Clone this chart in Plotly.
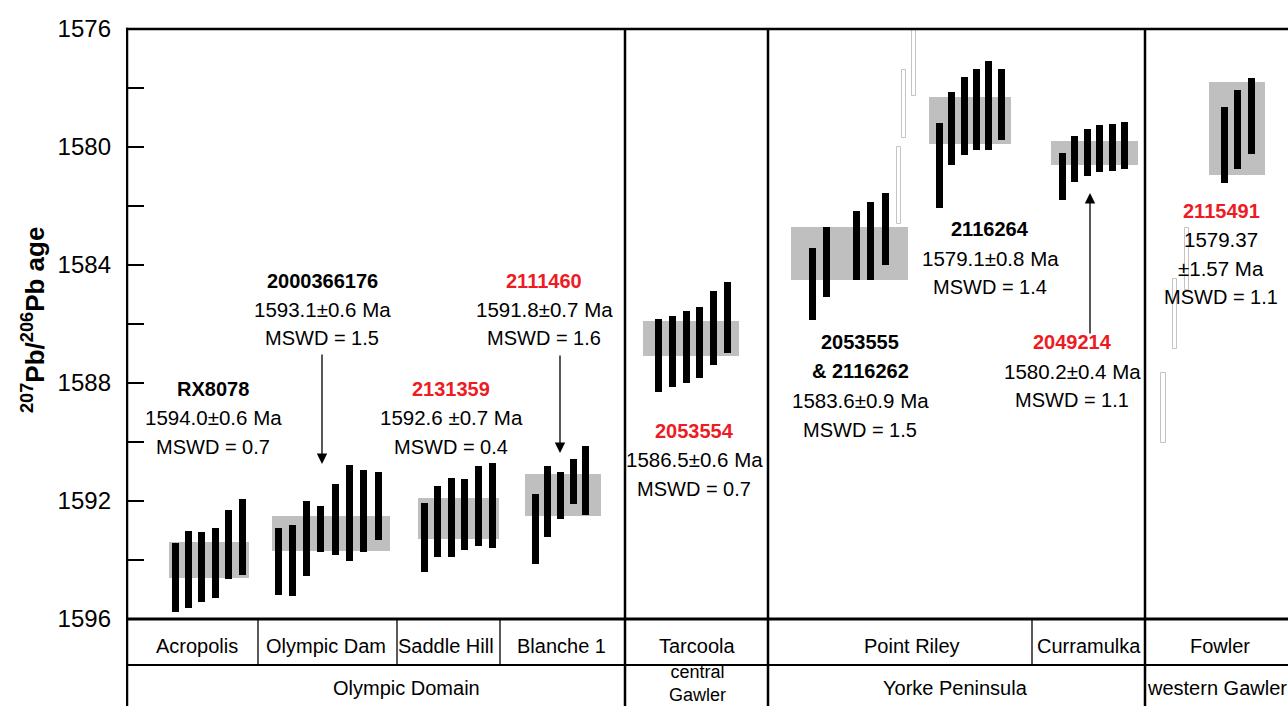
import plotly.graph_objects as go

# ---------------------------------------------------------------------------
# Weighted-mean 207Pb/206Pb ages (Ma), 2-sigma uncertainties and MSWD
# ---------------------------------------------------------------------------
SAMPLE_IDS = ["RX8078", "2000366176", "2131359", "2111460", "2053554",
              "2053555 & 2116262", "2116264", "2049214", "2115491"]
MEAN_AGE = [1594.0, 1593.1, 1592.6, 1591.8, 1586.5, 1583.6, 1579.1, 1580.2, 1579.37]
MEAN_ERR = [0.6, 0.6, 0.7, 0.7, 0.6, 0.9, 0.8, 0.4, 1.57]
MSWD = [0.7, 1.5, 0.4, 1.6, 0.7, 1.5, 1.4, 1.1, 1.1]
NEW_SAMPLE = [False, False, True, True, True, False, False, True, True]

# Individual analyses: centre age and 2-sigma half-width (Ma)
AGE_RX8078 = [1594.59, 1594.31, 1594.24, 1594.11, 1593.49, 1593.22]
ERR_RX8078 = [1.16, 1.31, 1.20, 1.19, 1.17, 1.30]
AGE_2000366176 = [1594.05, 1594.01, 1593.27, 1592.96, 1592.62, 1592.41, 1592.34, 1592.17]
ERR_2000366176 = [1.15, 1.20, 1.28, 0.78, 1.20, 1.62, 1.39, 1.15]
AGE_2131359 = [1593.23, 1592.69, 1592.56, 1592.45, 1592.17, 1592.15]
ERR_2131359 = [1.17, 1.21, 1.33, 1.21, 1.36, 1.43]
AGE_2111460 = [1592.94, 1592.01, 1591.82, 1591.34, 1591.31]
ERR_2111460 = [1.18, 1.20, 0.79, 0.77, 1.17]
AGE_2053554 = [1587.07, 1586.93, 1586.78, 1586.62, 1586.13, 1585.79]
ERR_2053554 = [1.23, 1.21, 1.22, 1.21, 1.26, 1.20]
AGE_2053555 = [1584.63, 1583.89, 1583.34, 1583.19, 1582.78]
ERR_2053555 = [1.22, 1.19, 1.17, 1.33, 1.21]
AGE_2116264 = [1580.63, 1579.38, 1578.96, 1578.73, 1578.59, 1578.56]
ERR_2116264 = [1.43, 1.24, 1.32, 1.38, 1.52, 1.21]
AGE_2049214 = [1581.00, 1580.41, 1580.19, 1580.06, 1580.01, 1579.95]
ERR_2049214 = [0.81, 0.79, 0.80, 0.79, 0.80, 0.80]
AGE_2115491 = [1579.93, 1579.41, 1578.96]
ERR_2115491 = [1.28, 1.35, 1.29]

# Analyses excluded from the weighted means (open bars)
REJ_AGE_POINT_RILEY = [1581.31, 1578.54, 1577.03]
REJ_ERR_POINT_RILEY = [1.30, 1.15, 1.23]
REJ_AGE_FOWLER = [1588.84, 1585.66, 1583.79]
REJ_ERR_FOWLER = [1.19, 1.20, 1.06]

# Locality / region labels
LOCALITIES = ["Acropolis", "Olympic Dam", "Saddle Hill", "Blanche 1",
              "Tarcoola", "Point Riley", "Curramulka", "Fowler"]
REGIONS = ["Olympic Domain", "central<br>Gawler", "Yorke Peninsula", "western Gawler"]

Y_TICKS = [1576, 1580, 1584, 1588, 1592, 1596]

# ---------------------------------------------------------------------------
# Layout of the panel (horizontal axis is a plain layout coordinate)
# ---------------------------------------------------------------------------
X_MIN, X_MAX = 126, 1288
FIG_W, FIG_H = 1288, 706
TOP_PX, PLOT_BOTTOM_PX = 29, 619
ROW_DIV_PX = 665

# per sample: first slot, slot step, slot indices, mean-box extent
SLOT_LAYOUT = [
    (175.0, 13.46, None, 169.3, 249.3),
    (278.0, 14.33, None, 271.7, 390.0),
    (424.3, 13.54, None, 418.3, 498.7),
    (535.3, 12.60, None, 525.0, 600.7),
    (658.3, 13.88, None, 643.3, 739.3),
    (812.0, 14.70, [0, 1, 3, 4, 5], 790.7, 907.7),
    (939.3, 12.40, None, 929.3, 1010.7),
    (1062.3, 12.48, None, 1051.0, 1138.3),
    (1224.3, 13.50, None, 1208.5, 1265.0),
]
REJ_LAYOUT_POINT_RILEY = (899.0, 5.0, [0, 1, 3])
REJ_LAYOUT_FOWLER = (1163.3, 11.85, [0, 1, 2])

GROUP_SEPARATORS = [625, 768, 1145]
LOCALITY_SEPARATORS = [258, 397, 500, 1032]
LOCALITY_CENTRES = [197, 326, 446, 561, 697, 912, 1089, 1220]
REGION_CENTRES = [406, 697, 955, 1217]

GRAIN_AGES = [AGE_RX8078, AGE_2000366176, AGE_2131359, AGE_2111460, AGE_2053554,
              AGE_2053555, AGE_2116264, AGE_2049214, AGE_2115491]
GRAIN_ERRS = [ERR_RX8078, ERR_2000366176, ERR_2131359, ERR_2111460, ERR_2053554,
              ERR_2053555, ERR_2116264, ERR_2049214, ERR_2115491]

FONT = "Liberation Sans, Arial, Helvetica, sans-serif"
RED = "#ed1c24"
BOX_GREY = "#bfbfbf"


def paper_y(px):
    """Vertical pixel position -> paper fraction of the plotting area."""
    return (PLOT_BOTTOM_PX - px) / (PLOT_BOTTOM_PX - TOP_PX)


def slot_x(start, step, n, slots):
    idx = slots if slots is not None else list(range(n))
    return [start + step * i for i in idx]


fig = go.Figure()

# weighted-mean boxes
box_x, box_w, box_base, box_len = [], [], [], []
for (start, step, slots, x0, x1), m, e in zip(SLOT_LAYOUT, MEAN_AGE, MEAN_ERR):
    box_x.append((x0 + x1) / 2)
    box_w.append(x1 - x0)
    box_base.append(m - e)
    box_len.append(2 * e)
fig.add_trace(go.Bar(x=box_x, y=box_len, base=box_base, width=box_w,
                     marker=dict(color=BOX_GREY, line=dict(width=0)),
                     hoverinfo="skip", showlegend=False))

# individual analyses (black bars)
for (start, step, slots, x0, x1), ages, errs in zip(SLOT_LAYOUT, GRAIN_AGES, GRAIN_ERRS):
    xs = slot_x(start, step, len(ages), slots)
    fig.add_trace(go.Bar(x=xs, y=[2 * e for e in errs],
                         base=[a - e for a, e in zip(ages, errs)],
                         width=7, marker=dict(color="black", line=dict(width=0)),
                         hoverinfo="skip", showlegend=False))

# excluded analyses (open bars)
for (start, step, slots), ages, errs in [
        (REJ_LAYOUT_POINT_RILEY, REJ_AGE_POINT_RILEY, REJ_ERR_POINT_RILEY),
        (REJ_LAYOUT_FOWLER, REJ_AGE_FOWLER, REJ_ERR_FOWLER)]:
    xs = slot_x(start, step, len(ages), slots)
    fig.add_trace(go.Bar(x=xs, y=[2 * e for e in errs],
                         base=[a - e for a, e in zip(ages, errs)],
                         width=4.5, marker=dict(color="white", line=dict(color="#c4c4c4", width=1)),
                         hoverinfo="skip", showlegend=False))

# ---------------------------------------------------------------------------
# Sample annotations
# ---------------------------------------------------------------------------
# (text centre x, y of first line, line spacing)
LABEL_POS = [
    (213, 389, 29), (322, 281, 28.5), (451, 389, 29), (544, 281, 28.5),
    (694, 431, 29), (860, 342, 29.3), (990, 229, 29), (1072, 342, 29), (1221, 211, 28.7),
]

annotations = []


def add_text(x, py, text, size=20, color="black", bold=False):
    if bold:
        text = f"<b>{text}</b>"
    annotations.append(dict(x=x, xref="x", y=paper_y(py), yref="paper", text=text,
                            showarrow=False, xanchor="center", yanchor="middle",
                            font=dict(family=FONT, size=size, color=color)))


for i, (sid, m, e, w, new) in enumerate(zip(SAMPLE_IDS, MEAN_AGE, MEAN_ERR, MSWD, NEW_SAMPLE)):
    x, py, dy = LABEL_POS[i]
    colour = RED if new else "black"
    if "&" in sid:
        first, second = sid.split(" & ")
        id_lines = [first, "& " + second]
    else:
        id_lines = [sid]
    if sid == "2131359":
        age_lines = [f"{m:.1f} \u00b1{e:.1f} Ma"]
    elif sid == "2115491":
        age_lines = [f"{m:.2f}", f"\u00b1{e:.2f} Ma"]
    else:
        age_lines = [f"{m:.1f}\u00b1{e:.1f} Ma"]
    lines = ([(t, "id") for t in id_lines] + [(t, "age") for t in age_lines]
             + [(f"MSWD = {w:.1f}", "mswd")])
    for k, (t, kind) in enumerate(lines):
        if kind == "id":
            add_text(x, py + k * dy, t, size=20, color=colour, bold=True)
        elif kind == "age":
            add_text(x, py + k * dy, t, size=20.5)
        else:
            add_text(x, py + k * dy, t, size=20)

# arrows linking labels to their boxes: (x, head px, tail px)
ARROWS = [(322, 464, 353), (560, 453, 354), (1090, 193, 335)]
for x, head, tail in ARROWS:
    annotations.append(dict(x=x, xref="x", y=paper_y(head), yref="paper", text="",
                            showarrow=True, ax=0, ay=tail - head, arrowhead=2,
                            arrowsize=1.6, arrowwidth=1.3, arrowcolor="black"))

# locality and region labels beneath the plot
for name, cx in zip(LOCALITIES, LOCALITY_CENTRES):
    add_text(cx, 646, name)
for name, cx in zip(REGIONS, REGION_CENTRES):
    if "<br>" in name:
        add_text(cx, 683, name, size=18)
    else:
        add_text(cx, 688, name)

# y-axis title
annotations.append(dict(x=(33 - X_MIN) / (X_MAX - X_MIN), xref="paper", y=paper_y(320), yref="paper",
                        text="<b><sup>207</sup>Pb/<sup>206</sup>Pb age</b>", textangle=-90,
                        showarrow=False, xanchor="center", yanchor="middle",
                        font=dict(family=FONT, size=26, color="black")))

# ---------------------------------------------------------------------------
# Frame and table lines
# ---------------------------------------------------------------------------
shapes = []
bottom = paper_y(FIG_H + 5)
row_div = paper_y(ROW_DIV_PX)


def vline(x, y0, y1, w):
    shapes.append(dict(type="line", xref="x", yref="paper", x0=x, x1=x, y0=y0, y1=y1,
                       line=dict(color="black", width=w)))


def hline(y, w):
    shapes.append(dict(type="line", xref="x", yref="paper", x0=X_MIN, x1=X_MAX + 5, y0=y, y1=y,
                       line=dict(color="black", width=w)))


hline(1, 2.5)
hline(0, 3)
hline(row_div, 2)
vline(X_MIN + 1, 1.002, bottom, 2.5)
for gx in GROUP_SEPARATORS:
    vline(gx, 1, bottom, 2.5)
for lx in LOCALITY_SEPARATORS:
    vline(lx, 0, row_div, 1.3)

fig.update_layout(
    width=FIG_W, height=FIG_H,
    margin=dict(l=X_MIN, r=FIG_W - X_MAX, t=TOP_PX, b=FIG_H - PLOT_BOTTOM_PX),
    paper_bgcolor="white", plot_bgcolor="white",
    barmode="overlay", bargap=0,
    xaxis=dict(range=[X_MIN, X_MAX], visible=False, fixedrange=True),
    yaxis=dict(range=[1596, 1576], tickvals=Y_TICKS, ticktext=[str(v) for v in Y_TICKS],
               ticks="inside", ticklen=18, tickwidth=2, tickcolor="black",
               minor=dict(dtick=2, ticks="inside", ticklen=18, tickwidth=2, tickcolor="black"),
               showgrid=False, zeroline=False, showline=False,
               ticklabelstandoff=14,
               tickfont=dict(family=FONT, size=24, color="black")),
    annotations=annotations, shapes=shapes,
    showlegend=False,
)

fig.write_html("out.html")
